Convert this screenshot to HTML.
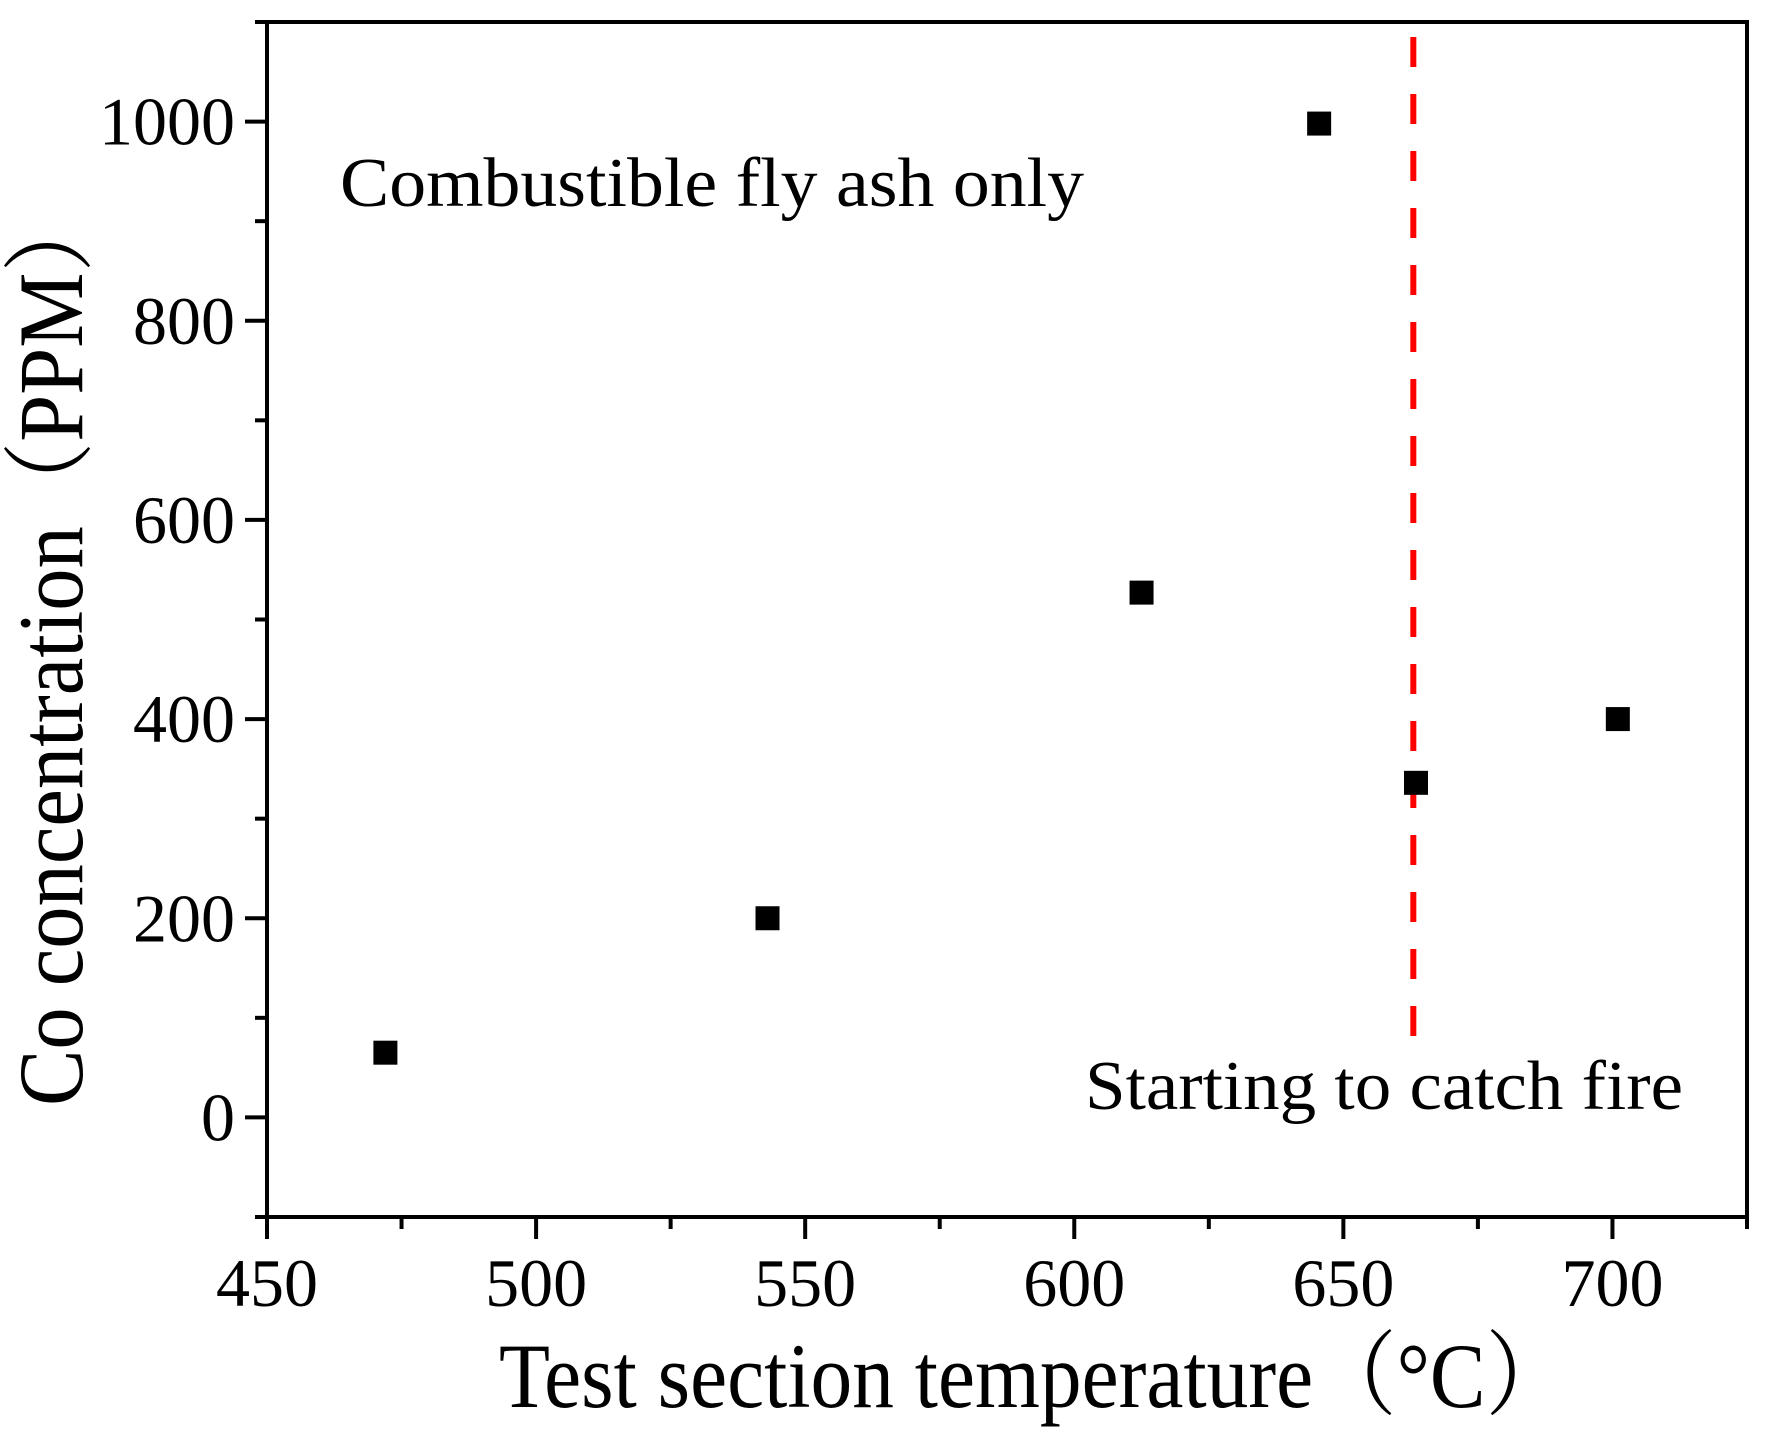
<!DOCTYPE html>
<html><head><meta charset="utf-8"><style>
html,body{margin:0;padding:0;background:#fff}
svg{display:block;font-family:"Liberation Serif","Noto Serif CJK SC",serif}
</style></head><body>
<svg id="chart" width="1771" height="1441" viewBox="0 0 1771 1441" xmlns="http://www.w3.org/2000/svg">
<g id="axes"></g>
<g id="marks"></g>
<text x="340" y="206" font-size="70" textLength="744" lengthAdjust="spacingAndGlyphs">Combustible  fly ash only</text>
<text x="1085" y="1109" font-size="70" textLength="598" lengthAdjust="spacingAndGlyphs">Starting to catch fire</text>
<text x="499" y="1407" font-size="92" textLength="1070" lengthAdjust="spacingAndGlyphs">Test section temperature（°C）</text>
<text transform="translate(82,1106) rotate(-90)" font-size="92" textLength="918" lengthAdjust="spacingAndGlyphs">Co concentration（PPM）</text>
</svg>
<script>
const xs = [472, 543, 612.5, 645.5, 663.5, 701];
const ys = [65, 200, 527, 998, 336, 400];
const xTicks = [450, 500, 550, 600, 650, 700];
const yTicks = [0, 200, 400, 600, 800, 1000];
const fireTemp = [663];

const NS = "http://www.w3.org/2000/svg";
const X0 = 267, X1 = 1747, Y0 = 1217, Y1 = 22;
const xMin = 450, xMax = 725, yMin = -100, yMax = 1100;
const sx = v => X0 + (v - xMin) / (xMax - xMin) * (X1 - X0);
const sy = v => Y0 - (v - yMin) / (yMax - yMin) * (Y0 - Y1);
function mk(tag, attrs, parent) {
  const e = document.createElementNS(NS, tag);
  for (const k in attrs) e.setAttribute(k, attrs[k]);
  parent.appendChild(e);
  return e;
}
const axes = document.getElementById('axes');
const frame = mk('path', {d:`M${X0},${Y1} H${X1} V${Y0} H${X0} Z`, fill:'none', stroke:'#000', 'stroke-width':4}, axes);


for (let v = 450; v <= 725; v += 25) {
  const major = v % 50 === 0;
  const t = mk('line', {x1:sx(v), x2:sx(v), y1:Y0, y2:Y0 + (major ? 22 : 12), stroke:'#000', 'stroke-width':4}, axes);
  
  
}
xTicks.forEach(v => {
  const t = mk('text', {x:sx(v), y:1306, 'font-size':68, 'text-anchor':'middle'}, axes);
  t.textContent = v;
  
  
});
for (let v = -100; v <= 1100; v += 100) {
  const major = v % 200 === 0;
  const t = mk('line', {x1:X0 - (major ? 22 : 12), x2:X0, y1:sy(v), y2:sy(v), stroke:'#000', 'stroke-width':4}, axes);
  
  
}
yTicks.forEach(v => {
  const t = mk('text', {x:X0 - 32, y:sy(v) + 23, 'font-size':68, 'text-anchor':'end'}, axes);
  t.textContent = v;
  
  
});
const ref = mk('line', {x1:sx(fireTemp[0]), x2:sx(fireTemp[0]), y1:37, y2:Y0 - 175, stroke:'#ff0000', 'stroke-width':6, 'stroke-dasharray':'30 27'}, axes);


const marks = document.getElementById('marks');
xs.forEach((x, i) => {
  const r = mk('rect', {x:sx(x) - 12, y:sy(ys[i]) - 12, width:24, height:24, fill:'#000'}, marks);
  
  
});
</script>
</body></html>
